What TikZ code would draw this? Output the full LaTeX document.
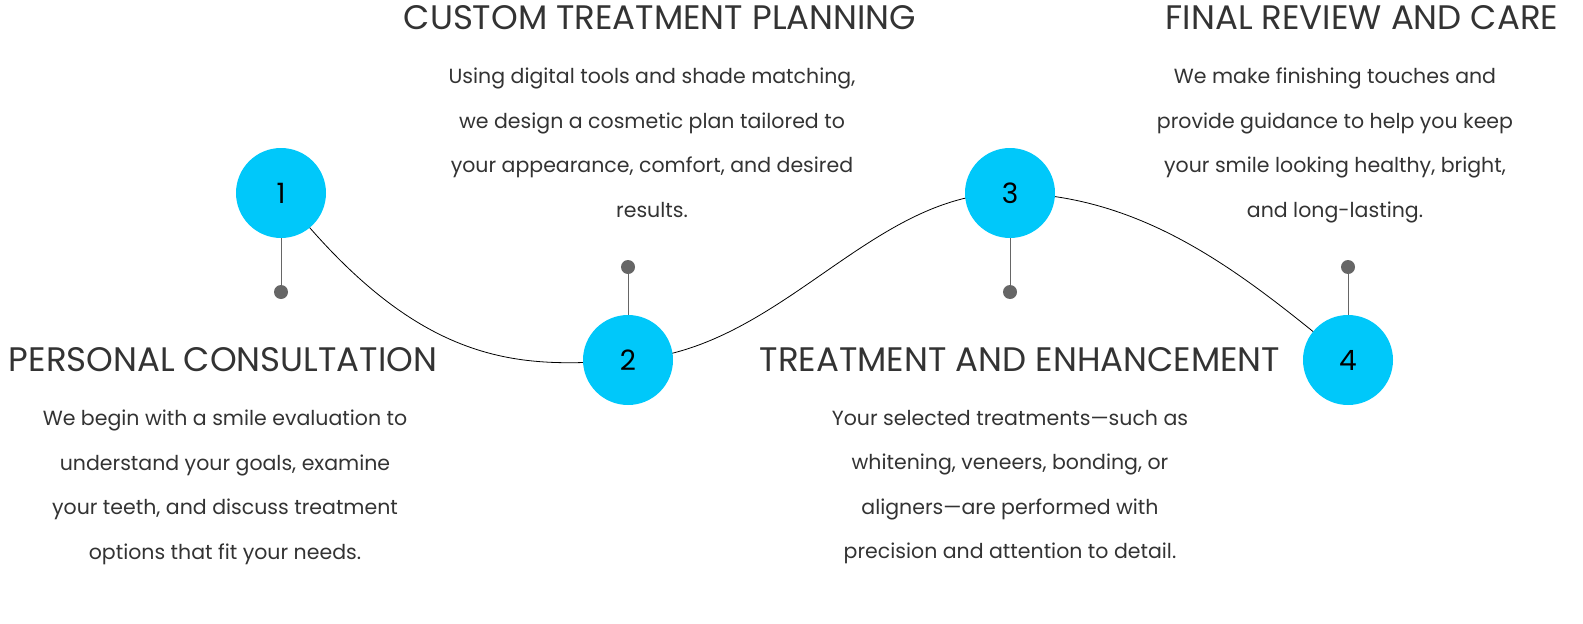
\documentclass[tikz,border=0pt]{standalone}
\usepackage{fontspec}
\setmainfont{Poppins}
\definecolor{cyanc}{HTML}{00C8FA}
\definecolor{dotc}{HTML}{666666}
\definecolor{txt}{HTML}{333333}
\begin{document}
\begin{tikzpicture}[x=1pt,y=-1pt,
  stepc/.style={circle,fill=cyanc,minimum size=90pt,inner sep=0pt,font=\fontsize{28}{30}\selectfont,text=black},
  dot/.style={circle,fill=dotc,minimum size=14pt,inner sep=0pt},
  title/.style={font=\fontsize{34}{36}\selectfont,text=txt,inner sep=0pt},
  body/.style={font=\fontsize{20.5}{44.5}\selectfont,text=txt,align=center,inner sep=0pt},
  wave/.style={line width=0.8pt,black},
  stem/.style={line width=0.8pt,dotc}]
\useasboundingbox (0,0) rectangle (1583,624);
\coordinate (c1) at (281,193);
\coordinate (c2) at (628,360);
\coordinate (c3) at (1010,193);
\coordinate (c4) at (1348,360);
\draw[wave] (c1) .. controls (420,370) and (520,368) .. (c2)
  .. controls (780,352) and (870,192) .. (c3)
  .. controls (1150,195) and (1250,280) .. (c4);
\node[dot] (d1) at (281,292) {};
\node[dot] (d2) at (628,267) {};
\node[dot] (d3) at (1010,292) {};
\node[dot] (d4) at (1348,267) {};
\node[stepc] (n1) at (c1) {1};
\node[stepc] (n2) at (c2) {2};
\node[stepc] (n3) at (c3) {3};
\node[stepc] (n4) at (c4) {4};
\draw[stem] (n1) -- (d1);
\draw[stem] (n2) -- (d2);
\draw[stem] (n3) -- (d3);
\draw[stem] (n4) -- (d4);
\node[title] (t1) at (223,360) {PERSONAL CONSULTATION};
\node[title] (t2) at (660,18) {CUSTOM TREATMENT PLANNING};
\node[title] (t3) at (1020,360) {TREATMENT AND ENHANCEMENT};
\node[title] (t4) at (1362,18) {FINAL REVIEW AND CARE};
\node[body,anchor=north] (b1) at (225,410) {We begin with a smile evaluation to\\understand your goals, examine\\your teeth, and discuss treatment\\options that fit your needs.};
\node[body,anchor=north] (b2) at (652,68) {Using digital tools and shade matching,\\we design a cosmetic plan tailored to\\your appearance, comfort, and desired\\results.};
\node[body,anchor=north] (b3) at (1010,410) {Your selected treatments—such as\\whitening, veneers, bonding, or\\aligners—are performed with\\precision and attention to detail.};
\node[body,anchor=north] (b4) at (1335,68) {We make finishing touches and\\provide guidance to help you keep\\your smile looking healthy, bright,\\and long-lasting.};
\end{tikzpicture}
\end{document}
